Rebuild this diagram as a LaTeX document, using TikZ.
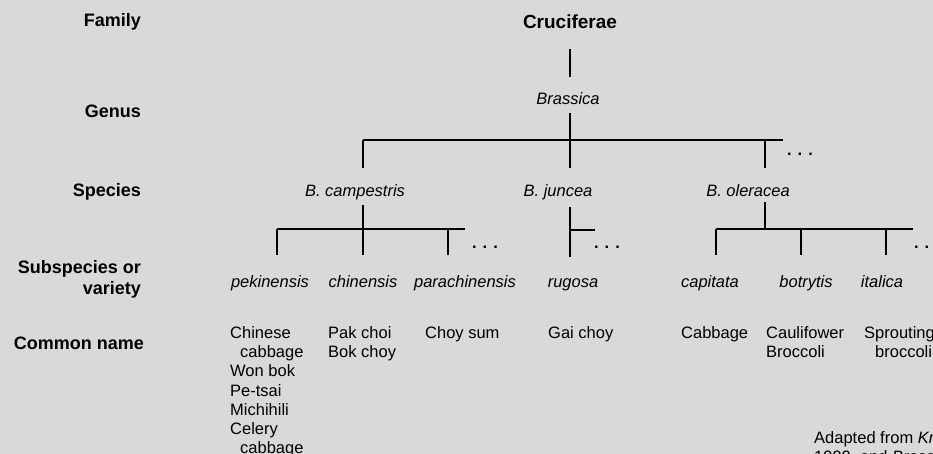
\documentclass[tikz,border=0pt]{standalone}
\usepackage{fontspec}
\setmainfont{Liberation Sans}
\usetikzlibrary{positioning}
\definecolor{Screen}{HTML}{D9D9D9}

\begin{document}
\begin{tikzpicture}[x=1pt, y=-1pt,
  rank/.style={anchor=base east, inner sep=0pt,
     font=\fontsize{18}{21}\selectfont\bfseries},
  family/.style={anchor=base, inner sep=0pt,
     font=\fontsize{19}{22}\selectfont\bfseries},
  taxon/.style={anchor=base, inner sep=0pt,
     font=\fontsize{16.5}{19}\selectfont\itshape},
  common/.style={anchor=north west, align=left, inner sep=0pt,
     font=\fontsize{16.5}{19.3}\selectfont},
  more/.style={anchor=base, inner sep=0pt,
     font=\fontsize{16.5}{19}\selectfont\bfseries},
  branch/.style={line width=2.6pt}]
  \clip (0,0) rectangle (933,454);
  \fill[Screen] (0,0) rectangle (933,454);
  % rank names
  \node[rank] (lfam) at (141,27) {Family};
  \node[rank] (lgen) at (141,118) {Genus};
  \node[rank] (lspe) at (141,197) {Species};
  \node[rank, anchor=north east, align=right] (lsub) at (141,260)
     {Subspecies or\\variety};
  \node[rank] (lcom) at (144,349) {Common name};
  % family, genus, species
  \node[family] (cruc) at (570,29) {Cruciferae};
  \node[taxon] (bras) at (568,105) {Brassica};
  \node[taxon] (camp) at (355,197) {B. campestris};
  \node[taxon] (junc) at (558,197) {B. juncea};
  \node[taxon] (oler) at (748,197) {B. oleracea};
  % subspecies or variety
  \node[taxon] (pek) at (270,287) {pekinensis};
  \node[taxon] (chi) at (363,287) {chinensis};
  \node[taxon] (para) at (465,287) {parachinensis};
  \node[taxon] (rug) at (573,287) {rugosa};
  \node[taxon] (capi) at (710,287) {capitata};
  \node[taxon] (botr) at (806,287) {botrytis};
  \node[taxon] (ital) at (882,287) {italica};
  % common names
  \node[common] (npek) at (230,326) {Chinese\\\hspace*{10pt}cabbage\\Won bok\\Pe-tsai\\Michihili\\Celery\\\hspace*{10pt}cabbage};
  \node[common] (nchi) at (328,326) {Pak choi\\Bok choy};
  \node[common] (npara) at (425,326) {Choy sum};
  \node[common] (nrug) at (548,326) {Gai choy};
  \node[common] (ncapi) at (681,326) {Cabbage};
  \node[common] (nbotr) at (766,326) {Caulifower\\Broccoli};
  \node[common] (nital) at (864,326) {Sprouting\\\hspace*{11pt}broccoli};
  \node[common] (src) at (814,431) {Adapted from \textit{Kr}\\1990, and \textit{Brass}};
  % genus to species
  \coordinate (g1) at (363,140); \coordinate (g2) at (765,140);
  \coordinate (g3) at (783,140); \coordinate (gj) at (570,168);
  \coordinate (s1) at (363,168); \coordinate (s3) at (765,168);
  \draw[branch, shorten <=20pt, shorten >=16pt] (cruc.south) -- (bras.north -| cruc);
  \draw[branch, shorten <=8pt] (bras.south -| gj) -- (gj);
  \draw[branch] (g1) -- (g3);
  \draw[branch] (g1) -- (s1);
  \draw[branch] (g2) -- (s3);
  \node[more] (mgen) at (800,156) {. . .};
  % B. campestris
  \coordinate (c1) at (277,229); \coordinate (c2) at (448,229);
  \coordinate (c3) at (465,229); \coordinate (c0) at (363,255);
  \draw[branch, shorten <=4.5pt] (camp.south -| c0) -- (c0);
  \draw[branch] (c1) -- (c3);
  \draw[branch] (c1) -- ++(0,26);
  \draw[branch] (c2) -- ++(0,26);
  \node[more] (mcamp) at (485,248) {. . .};
  % B. juncea
  \coordinate (j0) at (570,257); \coordinate (j1) at (570,230);
  \coordinate (j2) at (595,230);
  \draw[branch, shorten <=6pt] (junc.south -| j0) -- (j0);
  \draw[branch] (j1) -- (j2);
  \node[more] (mjunc) at (607,248) {. . .};
  % B. oleracea
  \coordinate (o0) at (765,229); \coordinate (o1) at (716,229);
  \coordinate (o2) at (801,229); \coordinate (o3) at (886,229);
  \coordinate (o4) at (913,229);
  \draw[branch, shorten <=5pt] (oler.south -| o0) -- (o0);
  \draw[branch] (o1) -- (o4);
  \foreach \p in {o1,o2,o3} {\draw[branch] (\p) -- ++(0,26);}
  \node[more] (moler) at (927,248) {. . .};
\end{tikzpicture}
\end{document}
